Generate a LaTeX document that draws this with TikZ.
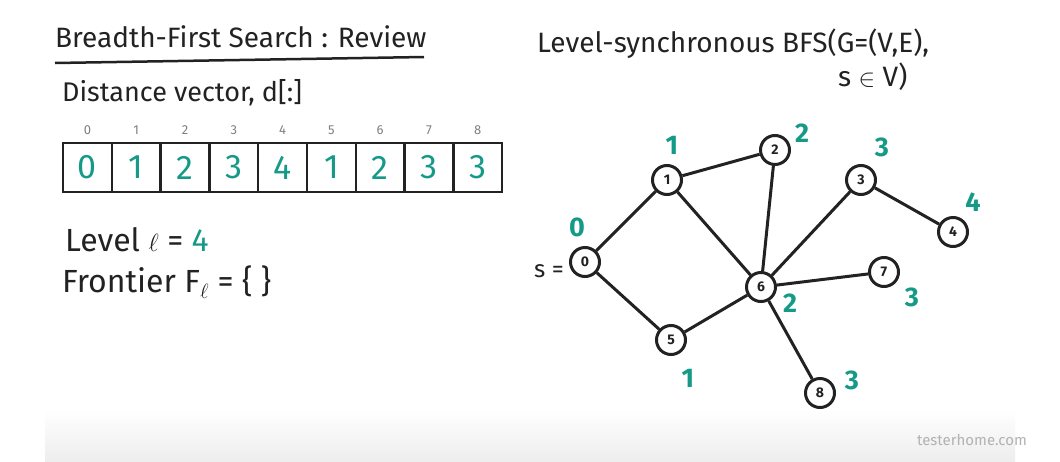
\documentclass[tikz,border=0pt]{standalone}
\usepackage{fontspec}
\setmainfont{Fira Sans}
\usetikzlibrary{positioning}
\definecolor{ink}{HTML}{222222}
\definecolor{tealmark}{HTML}{169A88}

\begin{document}
\begin{tikzpicture}[x=1pt,y=-1pt,
  hand/.style={text=ink,anchor=west,inner sep=0pt},
  cell/.style={draw=ink,line width=2.5pt,minimum width=48.8pt,minimum height=49pt,
    inner sep=0pt,text=tealmark,font=\fontsize{34}{34}\selectfont},
  idx/.style={text=black!50,font=\fontsize{13}{13}\selectfont,label distance=4pt},
  vertex/.style={circle,draw=ink,line width=3pt,fill=white,minimum size=29pt,
    inner sep=0pt,text=ink,font=\fontsize{14}{14}\selectfont\bfseries},
  edge/.style={draw=ink,line width=3pt},
  dist/.style={text=tealmark,font=\fontsize{27}{27}\selectfont\bfseries}]

\useasboundingbox (0,0) rectangle (1060,461);
\fill[white] (0,0) rectangle (1060,461);
\shade[top color=white,bottom color=black!7] (45,410) rectangle (1015,461);

% left half: review
\node[hand,font=\fontsize{28}{28}\selectfont] (title) at (55,37) {Breadth-First Search : Review};
\draw[ink,line width=2.5pt] (55,63) -- (424,57);
\node[hand,font=\fontsize{27}{27}\selectfont] (distvec) at (62,93) {Distance vector, d[:]};

\foreach \v [count=\i from 0] in {0,1,2,3,4,1,2,3,3}
  \node[cell,label={[idx]above:\i}] (d\i) at ({87.4+48.8*\i},167.5) {\v};

\node[hand,font=\fontsize{32}{32}\selectfont] (level) at (65,240)
  {Level $\ell$ = \textcolor{tealmark}{4}};
\node[hand,font=\fontsize{32}{32}\selectfont] (frontier) at (62,282)
  {Frontier F$_\ell$ = \{ \}};

% right half: the graph
\node[hand,font=\fontsize{28}{28}\selectfont] (bfs) at (537,44) {Level-synchronous BFS(G=(V,E),};
\node[hand,font=\fontsize{28}{28}\selectfont] (bfsb) at (838,77) {s $\in$ V)};

\foreach \n/\x/\y in {0/585/262,1/667/180,2/775/150,3/861/180,4/953/232,
                      5/671/340,6/761/287,7/884/272,8/820/393}
  \node[vertex] (v\n) at (\x,\y) {\n};

\foreach \a/\b in {0/1,0/5,1/2,1/6,2/6,3/6,3/4,6/7,6/5,6/8}
  \draw[edge] (v\a) -- (v\b);

\node[hand,anchor=east,font=\fontsize{24}{24}\selectfont] (src) [left=5pt of v0,yshift=-9pt] {s =};

\foreach \n/\x/\y/\d in {0/577/227/0,1/672/145/1,2/802/133/2,3/882/147/3,4/973/202/4,
                         5/688/378/1,6/790/303/2,7/912/297/3,8/852/380/3}
  \node[dist] (l\n) at (\x,\y) {\d};

\node[text=black!30,font=\fontsize{15}{15}\selectfont] (mark) at (972,440) {testerhome.com};
\end{tikzpicture}
\end{document}
